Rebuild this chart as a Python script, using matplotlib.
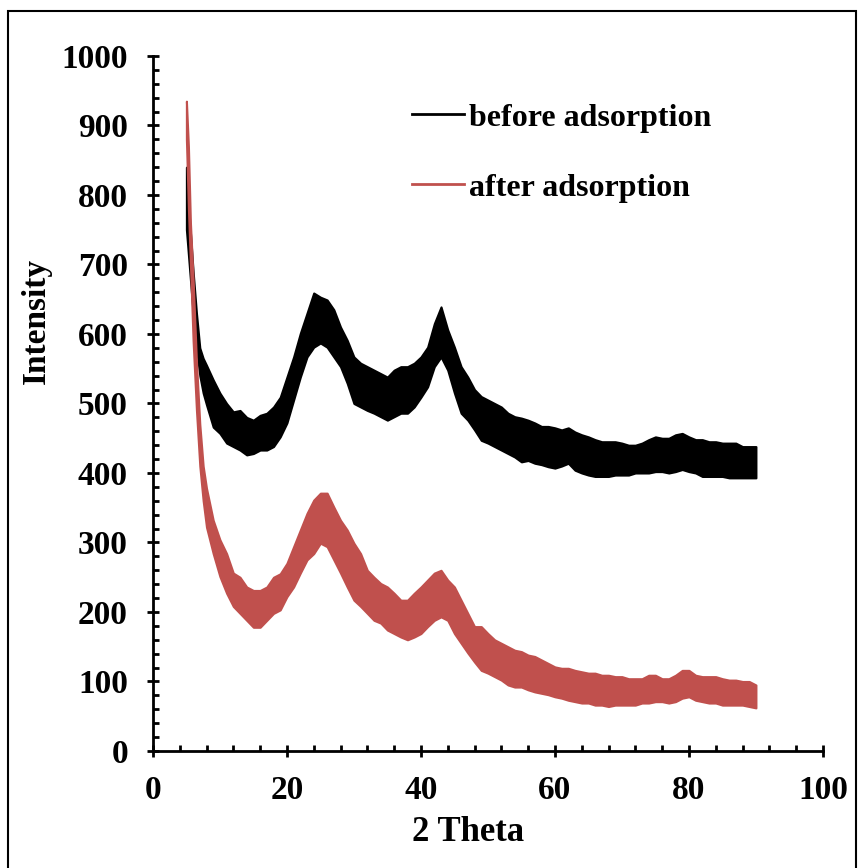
import matplotlib
matplotlib.use("Agg")
import matplotlib.pyplot as plt
from matplotlib.patches import Rectangle

plt.rcParams['font.family'] = ['Liberation Serif', 'DejaVu Serif']
plt.rcParams['font.weight'] = 'bold'

# 2-theta positions (degrees) and the upper / lower edges of the noisy XRD trace
two_theta_before = [5.0, 5.5, 6.0, 6.5, 7.0, 7.5, 8, 9, 10, 11, 12, 13, 14, 15, 16, 17, 18, 19,
                    20, 21, 22, 23, 24, 25, 26, 27, 28, 29, 30, 31, 32, 33, 34, 35, 36, 37,
                    38, 39, 40, 41, 42, 43, 44, 45, 46, 47, 48, 49, 50, 51, 52, 53, 54, 55,
                    56, 57, 58, 59, 60, 61, 62, 63, 64, 65, 66, 67, 68, 69, 70, 71, 72, 73,
                    74, 75, 76, 77, 78, 79, 80, 81, 82, 83, 84, 85, 86, 87, 88, 89, 90]
before_hi = [840, 760, 690, 630, 580, 565, 555, 534, 515, 500, 488, 490, 480, 476, 483, 486, 495, 509,
             538, 567, 601, 630, 659, 653, 649, 635, 610, 591, 567, 558, 553, 548, 543, 538, 548, 553,
             553, 558, 567, 581, 615, 639, 606, 581, 553, 538, 520, 510, 505, 500, 495, 486, 481, 479,
             476, 472, 467, 467, 465, 462, 465, 459, 455, 452, 448, 445, 445, 445, 443, 440, 440, 443,
             448, 452, 450, 450, 455, 457, 452, 448, 448, 445, 445, 443, 443, 443, 438, 438, 438]
before_lo = [750, 690, 630, 580, 540, 515, 498, 466, 457, 443, 438, 433, 426, 428, 433, 433, 438, 452,
             472, 505, 538, 567, 581, 587, 581, 567, 553, 529, 500, 495, 490, 486, 481, 476, 481, 486,
             486, 495, 509, 524, 553, 567, 548, 515, 486, 476, 462, 447, 443, 438, 433, 428, 423, 416,
             418, 414, 412, 409, 407, 410, 414, 404, 400, 397, 395, 395, 395, 397, 397, 397, 400, 400,
             400, 402, 402, 400, 402, 405, 402, 400, 395, 395, 395, 395, 393, 393, 393, 393, 393]

two_theta_after = [5.0, 5.3, 5.6, 6.0, 6.5, 7.0, 7.5, 8, 9, 10, 11, 12, 13, 14, 15, 16, 17, 18, 19,
                   20, 21, 22, 23, 24, 25, 26, 27, 28, 29, 30, 31, 32, 33, 34, 35, 36, 37,
                   38, 39, 40, 41, 42, 43, 44, 45, 46, 47, 48, 49, 50, 51, 52, 53, 54, 55,
                   56, 57, 58, 59, 60, 61, 62, 63, 64, 65, 66, 67, 68, 69, 70, 71, 72, 73,
                   74, 75, 76, 77, 78, 79, 80, 81, 82, 83, 84, 85, 86, 87, 88, 89, 90]
after_hi = [935, 870, 760, 680, 560, 470, 410, 378, 332, 304, 284, 256, 250, 236, 231, 231, 236, 250, 255,
            270, 294, 318, 342, 361, 371, 371, 351, 332, 318, 299, 284, 260, 250, 241, 236, 227, 217,
            217, 227, 236, 246, 256, 260, 246, 236, 217, 198, 179, 179, 169, 160, 155, 150, 145, 143,
            138, 136, 131, 126, 121, 119, 119, 116, 114, 112, 112, 109, 109, 107, 107, 104, 104, 104,
            109, 109, 104, 104, 109, 116, 116, 109, 107, 107, 107, 104, 102, 102, 100, 100, 95]
after_lo = [880, 780, 700, 590, 490, 410, 360, 322, 284, 251, 227, 208, 198, 188, 178, 178, 188, 198, 203,
            222, 236, 256, 275, 284, 299, 294, 275, 256, 236, 217, 208, 198, 188, 184, 174, 169, 164,
            160, 164, 169, 179, 188, 193, 188, 169, 155, 141, 128, 116, 112, 107, 102, 95, 92, 92,
            88, 85, 83, 81, 78, 76, 73, 71, 69, 69, 66, 66, 64, 66, 66, 66, 66, 69,
            69, 71, 71, 69, 71, 76, 78, 73, 71, 69, 69, 66, 66, 66, 66, 64, 62]

x_ticks = [0, 20, 40, 60, 80, 100]
y_ticks = [0, 100, 200, 300, 400, 500, 600, 700, 800, 900, 1000]

black = '#000000'
red = '#C0504D'
fsize = 24

fig = plt.figure(figsize=(8.59, 8.68), dpi=100)
ax = fig.add_axes([0.178, 0.1348, 0.780, 0.8007])

# noisy traces drawn as bands between their upper and lower edges
ax.fill_between(two_theta_before, before_lo, before_hi, color=black, linewidth=1.5,
                edgecolor=black)
ax.fill_between(two_theta_after, after_lo, after_hi, color=red, linewidth=1.5,
                edgecolor=red)

# legend handles
ax.plot([], [], color=black, linewidth=2, label='before adsorption')
ax.plot([], [], color=red, linewidth=2, label='after adsorption')

ax.set_xlim(0, 100)
ax.set_ylim(0, 1000)
ax.set_xticks(x_ticks)
ax.set_yticks(y_ticks)
ax.set_xticks(range(0, 101, 4), minor=True)
ax.set_yticks(range(0, 1001, 20), minor=True)

for side in ['top', 'right']:
    ax.spines[side].set_visible(False)
for side in ['left', 'bottom']:
    ax.spines[side].set_linewidth(2.0)

ax.tick_params(which='major', direction='inout', length=8, width=2.0, labelsize=fsize)
ax.tick_params(which='minor', direction='in', length=4.5, width=2.0)
ax.tick_params(axis='x', which='major', pad=13)
ax.tick_params(axis='y', which='major', pad=14)

ax.set_xlabel('2 Theta', fontsize=fsize + 1, fontweight='bold')
ax.set_ylabel('Intensity', fontsize=fsize, fontweight='bold')
ax.xaxis.set_label_coords(0.47, -0.094)
ax.yaxis.set_label_coords(-0.151, 0.619)

leg = ax.legend(loc='upper left', bbox_to_anchor=(0.386, 0.932), frameon=False,
                fontsize=23, handlelength=1.65, handletextpad=0.15, labelspacing=1.27,
                borderaxespad=0, borderpad=0)
for t in leg.get_texts():
    t.set_fontweight('bold')

# outer frame around the figure
fig.patches.append(Rectangle((0.0093, -0.02), 0.987, 1.007, transform=fig.transFigure,
                             fill=False, edgecolor='black', linewidth=1.5))

fig.savefig('out.png', dpi=100)
